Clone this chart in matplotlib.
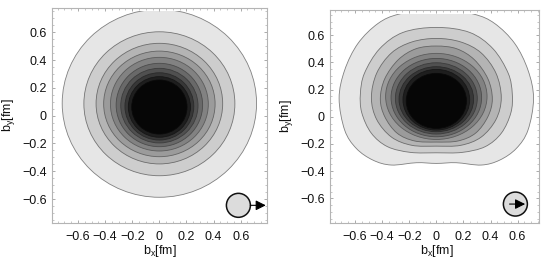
import matplotlib
matplotlib.use('Agg')
import matplotlib.pyplot as plt
import numpy as np
from matplotlib.patches import Ellipse, PathPatch, Rectangle
from matplotlib.path import Path

plt.rcParams['font.family'] = ['Liberation Sans', 'DejaVu Sans']
plt.rcParams['mathtext.default'] = 'regular'

# shades from outermost contour to the core
grays = ['#e6e6e6', '#cdcdcd', '#b4b4b4', '#9b9b9b', '#828282',
         '#696969', '#505050', '#373737', '#1e1e1e', '#060606']
edges = ['#808080', '#747474', '#6c6c6c', '#646464', '#5c5c5c',
         '#4c4c4c', '#3c3c3c', '#2a2a2a', '#161616', '#0a0a0a']
frame_gray = '#b4b4b4'

# left panel, contours read as half width, top and bottom
left_hw = [.717, .557, .467, .411, .361, .319, .285, .254, .229, .204]
left_top = [.765, .604, .521, .465, .420, .377, .341, .309, .281, .257]
left_bot = [-.587, -.432, -.347, -.295, -.254, -.223, -.196, -.175, -.155, -.132]

# right panel, the outer four contours are not ellipses (half outlines, bottom to top)
right_outer_x = [
    [0, .147, .332, .467, .590, .676, .717, .676, .578, .430, .275, 0],
    [0, .190, .360, .480, .550, .560, .530, .418, .246, 0],
    [0, .180, .330, .440, .479, .440, .330, .180, 0],
    [0, .160, .290, .380, .413, .380, .280, .150, 0],
]
right_outer_y = [
    [-.343, -.338, -.355, -.319, -.233, -.098, .135, .343, .539, .686, .755, .800],
    [-.265, -.262, -.220, -.120, .030, .170, .320, .500, .620, .657],
    [-.216, -.210, -.150, -.020, .140, .320, .470, .550, .576],
    [-.186, -.178, -.120, 0, .130, .280, .420, .500, .520],
]
right_hw = [.374, .334, .302, .275, .246, .222]
right_top = [.466, .429, .397, .368, .348, .319]
right_bot = [-.167, -.147, -.127, -.110, -.098, -.086]

ticks = [-.6, -.4, -.2, 0, .2, .4, .6]
tick_labels = ['\u22120.6', '\u22120.4', '\u22120.2', '0', '0.2', '0.4', '0.6']
minor = np.arange(-.75, .76, .05)


def smooth_path(xs, ys):
    # mirror the half outline, then closed catmull-rom as bezier pieces
    xs = list(xs) + [-v for v in xs[-2:0:-1]]
    ys = list(ys) + list(ys[-2:0:-1])
    pts = np.column_stack([xs, ys])
    n = len(pts)
    verts = [pts[0]]
    codes = [Path.MOVETO]
    for i in range(n):
        p0, p1, p2, p3 = pts[i - 1], pts[i], pts[(i + 1) % n], pts[(i + 2) % n]
        verts += [p1 + (p2 - p0) / 6, p2 - (p3 - p1) / 6, p2]
        codes += [Path.CURVE4] * 3
    return Path(verts, codes)


def add_clipped(ax, patch):
    ax.add_patch(patch)
    patch.set_clip_path(Rectangle((-.75, -.755), 1.5, 1.51, transform=ax.transData))


def add_ellipses(ax, hw, top, bot, shades, lines):
    for w, t, b, c, e in zip(hw, top, bot, shades, lines):
        add_clipped(ax, Ellipse((0, (t + b) / 2), 2 * w, t - b, fc=c, ec=e, lw=.6))


def style(ax, xlim, ylim):
    ax.set_xlim(xlim)
    ax.set_ylim(ylim)
    ax.set_xticks(ticks, tick_labels)
    ax.set_yticks(ticks, tick_labels)
    ax.set_xticks(minor, minor=True)
    ax.set_yticks(minor, minor=True)
    ax.tick_params(which='major', direction='in', length=2.2, width=.5, color='#888888',
                   top=True, right=True, labelsize=9, labelcolor='#111111')
    ax.tick_params(axis='x', which='major', pad=6)
    ax.tick_params(axis='y', which='major', pad=4)
    ax.tick_params(which='minor', direction='in', length=1.1, width=.4, color='#999999',
                   top=True, right=True)
    for s in ax.spines.values():
        s.set_color(frame_gray)
        s.set_linewidth(.8)


def add_disc(ax, cx, cy, rx, ry, x0, x1):
    ax.add_patch(Ellipse((cx, cy), 2 * rx, 2 * ry, fc='#dcdcdc', ec='#111111', lw=1.1, zorder=5))
    ax.annotate('', xy=(x1, cy), xytext=(x0, cy), zorder=6, annotation_clip=False,
                arrowprops=dict(arrowstyle='-|>,head_length=.5,head_width=.25', color='black',
                                lw=.8, mutation_scale=12, shrinkA=0, shrinkB=0))


fig = plt.figure(figsize=(5.45, 2.69), dpi=100)
W, H = 545, 269

ax1 = fig.add_axes([52.3 / W, 1 - 222.7 / H, 214.7 / W, 214.4 / H])
add_ellipses(ax1, left_hw, left_top, left_bot, grays, edges)
style(ax1, (-.79, .794), (-.77, .773))
add_disc(ax1, .583, -.645, .0885, .0863, .671, .785)
ax1.set_xlabel('b$_{x}$[fm]', fontsize=9, color='#111111')
ax1.xaxis.set_label_coords(.5, -.095)
ax1.set_ylabel('b$_{y}$[fm]', fontsize=9, color='#111111')
ax1.yaxis.set_label_coords(-.165, .5)

ax2 = fig.add_axes([330.3 / W, 1 - 222.7 / H, 208.4 / W, 212.7 / H])
for i in range(4):
    add_clipped(ax2, PathPatch(smooth_path(right_outer_x[i], right_outer_y[i]),
                               fc=grays[i], ec=edges[i], lw=.6))
add_ellipses(ax2, right_hw, right_top, right_bot, grays[4:], edges[4:])
style(ax2, (-.782, .755), (-.779, .785))
add_disc(ax2, .583, -.642, .0885, .0882, .54, .655)
ax2.set_xlabel('b$_{x}$[fm]', fontsize=9, color='#111111')
ax2.xaxis.set_label_coords(.51, -.095)
ax2.set_ylabel('b$_{y}$[fm]', fontsize=9, color='#111111')
ax2.yaxis.set_label_coords(-.167, .5)

fig.savefig('out.png', dpi=100)
